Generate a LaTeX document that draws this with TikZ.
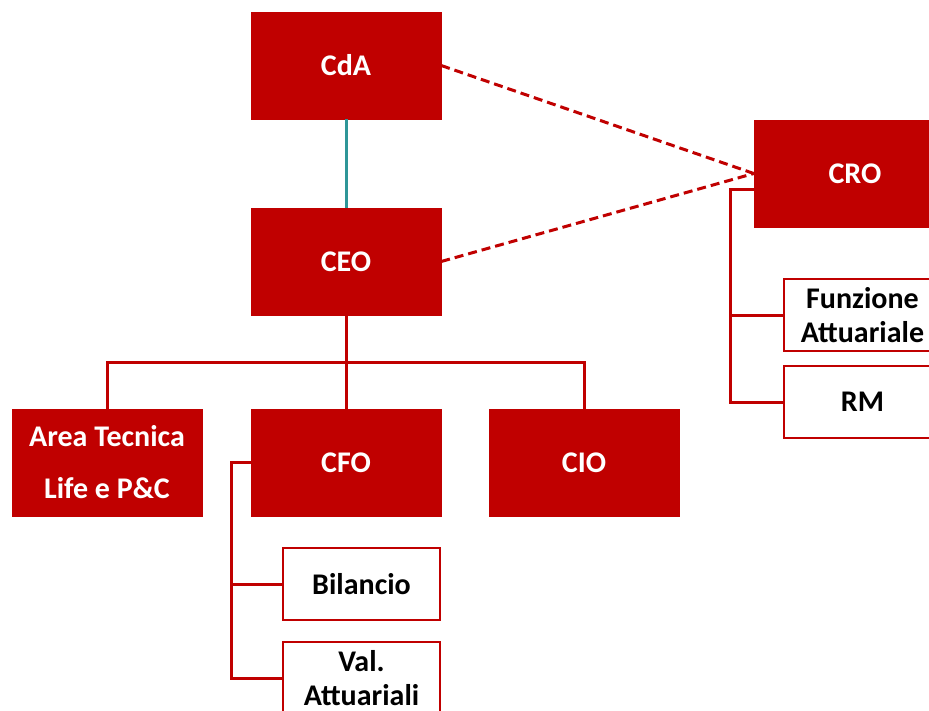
\documentclass[tikz,border=0pt]{standalone}
\usepackage{fontspec}
\setmainfont{Carlito}
\usepackage{xcolor}
\usepackage{tikz}
\usetikzlibrary{shapes,arrows}
\definecolor{boxred}{RGB}{192,0,0}
\definecolor{linkteal}{RGB}{46,150,152}
\tikzstyle{head} = [fill=boxred, draw=boxred, text=white, minimum width=190pt, minimum height=107pt, inner sep=0pt, align=center, font=\bfseries\fontsize{30}{52}\selectfont]
\tikzstyle{unit} = [fill=white, draw=boxred, line width=2pt, text=black, minimum width=157pt, minimum height=72pt, inner sep=0pt, align=center, font=\bfseries\fontsize{30}{34}\selectfont]
\tikzstyle{line} = [draw=boxred, line width=3pt]
\tikzstyle{dashline} = [draw=boxred, line width=3pt, dash pattern=on 9pt off 5pt]

\begin{document}
\begin{tikzpicture}[x=1pt,y=-1pt]
\clip (0,0) rectangle (929,710);
%
\node[head] (cda) at (346,65.5) {CdA};
\node[head] (ceo) at (346,261.5) {CEO};
\node[head, minimum width=202pt] (cro) at (855,173.5) {CRO};
\node[head] (area) at (107,462.5) {Area Tecnica\\Life e P\&C};
\node[head] (cfo) at (346,462.5) {CFO};
\node[head] (cio) at (584,462.5) {CIO};
%
\node[unit] (bil) at (361.5,584) {Bilancio};
\node[unit] (val) at (361.5,678) {Val.\\Attuariali};
\node[unit] (fun) at (862.5,315) {Funzione\\Attuariale};
\node[unit] (rm) at (862.5,402) {RM};
%
\draw[linkteal, line width=3pt] (cda.south) -- (ceo.north);
\draw[dashline] (cda.east) -- (cro.west);
\draw[dashline] (ceo.east) -- (cro.west);
%
\draw[line] (ceo.south) -- (cfo.north);
\draw[line] (ceo.south) ++(0,47) coordinate (fork) -| (area.north);
\draw[line] (fork) -| (cio.north);
%
\draw[line] (cfo.west) -- ++(-19,0) coordinate (cfoleg) |- (bil.west);
\draw[line] (cfoleg) |- (val.west);
\draw[line] ([yshift=-15.5pt]cro.west) -- ++(-23,0) coordinate (croleg) |- (fun.west);
\draw[line] (croleg) |- (rm.west);
\end{tikzpicture}
\end{document}
